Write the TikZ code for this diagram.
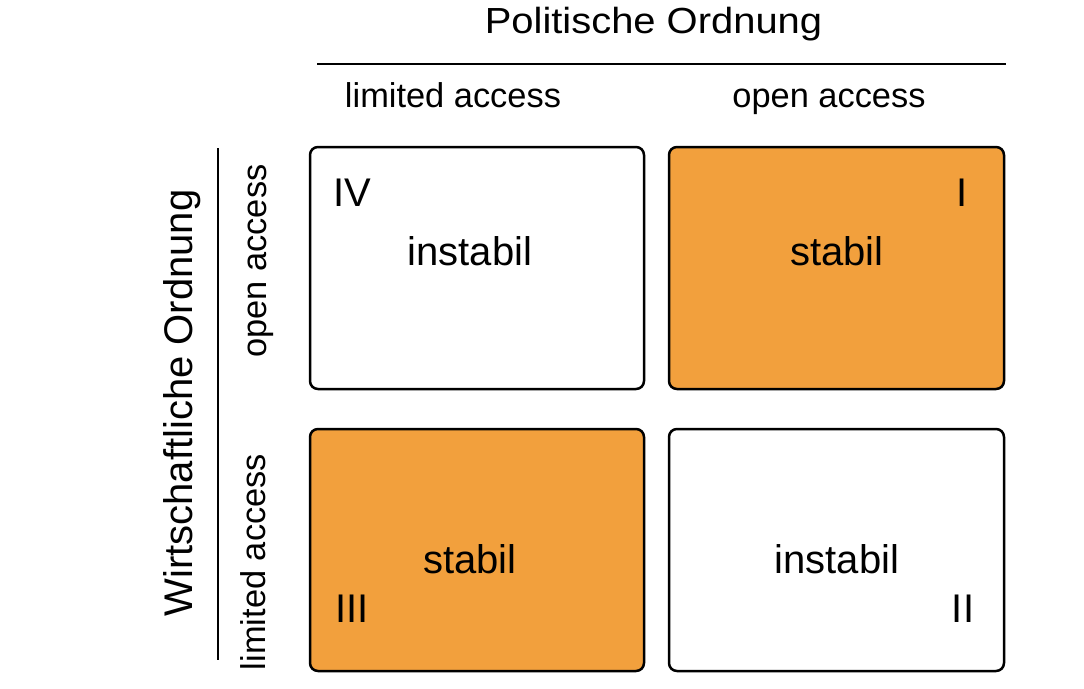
\documentclass[tikz,border=0pt]{standalone}
\usepackage{fontspec}
\setmainfont{Liberation Sans}
\begin{document}
\begin{tikzpicture}[x=1pt,y=-1pt,
  cell/.style={draw=black, line width=2.5pt, rounded corners=8pt},
  stab/.style={cell, fill=orangeA},
  inst/.style={cell, fill=white},
  big/.style={anchor=base, inner sep=0pt, font=\fontsize{40}{44}\selectfont},
  mid/.style={anchor=base, inner sep=0pt, font=\fontsize{34.4}{38}\selectfont},
  rule/.style={line width=2pt}]
\definecolor{orangeA}{HTML}{F2A03D}
\useasboundingbox (0,0) rectangle (1084,688);
% cells
\draw[inst] (310,147) rectangle (644,389);
\draw[stab] (669,147) rectangle (1004,389);
\draw[stab] (310,429) rectangle (644,671);
\draw[inst] (669,429) rectangle (1004,671);
% rules
\coordinate (h1) at (317,64);
\coordinate (h2) at (1006,64);
\coordinate (v1) at (218,148);
\coordinate (v2) at (218,660);
\draw[rule] (h1) -- (h2);
\draw[rule] (v1) -- (v2);
% headings
\node[big] (pol) at (653.5,33) {\scalebox{1.1}[1]{\fontsize{36.3}{40}\selectfont Politische Ordnung}};
\node[mid] (hl) at (453,107) {limited access};
\node[mid] (ho) at (829,107) {open access};
\node[big, rotate=90] (wir) at (192,403) {Wirtschaftliche Ordnung};
\node[mid, rotate=90] (vo) at (266,261) {open access};
\node[mid, rotate=90] (vl) at (265,562) {limited access};
% cell texts
\node[big] (n4) at (352,206) {IV};
\node[big] (t4) at (470,265) {instabil};
\node[big] (n1) at (962,206) {I};
\node[big] (t1) at (837,265) {stabil};
\node[big] (t3) at (470,573) {stabil};
\node[big] (n3) at (352,622) {III};
\node[big] (t2) at (837,573) {instabil};
\node[big] (n2) at (963,622) {II};
\end{tikzpicture}
\end{document}
